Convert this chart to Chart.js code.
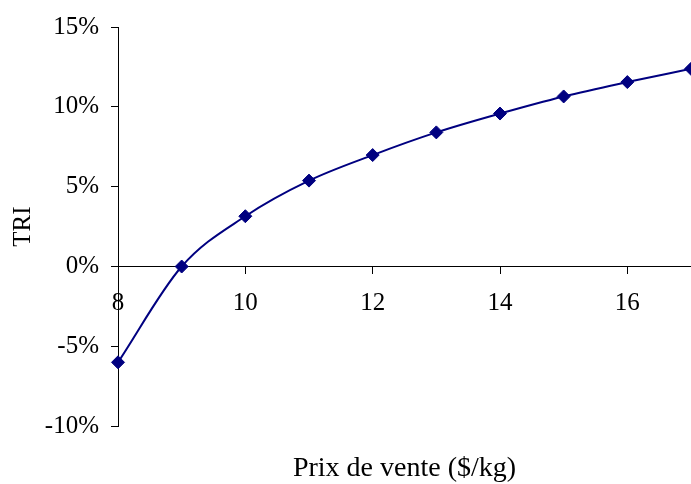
<!DOCTYPE html>
<html>
<head>
<meta charset="utf-8">
<script src="https://cdn.jsdelivr.net/npm/chart.js@4"></script>
<style>
  html, body { margin: 0; padding: 0; background: #ffffff; }
  #wrap { width: 691px; height: 484px; }
</style>
</head>
<body>
<div id="wrap"><canvas id="c" width="691" height="484"></canvas></div>
<script>
// Selling price ($/kg) and the resulting internal rate of return (%)
const prices = [8, 9, 10, 11, 12, 13, 14, 15, 16, 17];
const triValues = [-6.0, 0.0, 3.15, 5.38, 6.98, 8.4, 9.58, 10.65, 11.55, 12.38];
const xTicks = [8, 10, 12, 14, 16];
const yTicks = [-10, -5, 0, 5, 10, 15];

const serif = 'Liberation Serif, "Times New Roman", serif';
const navy = '#000080';

new Chart(document.getElementById('c'), {
  type: 'line',
  data: {
    datasets: [{
      data: prices.map((p, i) => ({ x: p, y: triValues[i] })),
      borderColor: navy,
      backgroundColor: navy,
      borderWidth: 2,
      pointStyle: 'rectRot',
      pointRadius: 6.5,
      pointHoverRadius: 6.5,
      pointBorderWidth: 1,
      cubicInterpolationMode: 'monotone',
      clip: false
    }]
  },
  options: {
    responsive: false,
    devicePixelRatio: 1,
    animation: false,
    layout: { autoPadding: false, padding: { left: 0, top: 24, right: -2, bottom: 0 } },
    plugins: {
      legend: { display: false },
      tooltip: { enabled: false },
      title: {
        display: true,
        position: 'bottom',
        fullSize: false,
        text: 'Prix de vente ($/kg)',
        color: '#000',
        font: { family: serif, size: 28, weight: 'normal', lineHeight: 1.1 },
        padding: { top: 27, bottom: 0 }
      }
    },
    scales: {
      x: {
        type: 'linear',
        position: { y: 0 },
        min: 8,
        max: 17,
        afterBuildTicks: s => { s.ticks = xTicks.map(v => ({ value: v })); },
        afterFit: s => { s.height = 0; s.paddingLeft = 0; s.paddingRight = 0; },
        border: { display: true, color: '#000', width: 1 },
        grid: { drawOnChartArea: false, drawTicks: true, tickLength: 7, color: '#000', tickWidth: 1 },
        ticks: {
          color: '#000',
          padding: 15,
          maxRotation: 0,
          font: { family: serif, size: 25 },
          callback: v => String(v)
        }
      },
      y: {
        type: 'linear',
        position: 'left',
        min: -10,
        max: 15,
        afterBuildTicks: s => { s.ticks = yTicks.map(v => ({ value: v })); },
        afterFit: s => { s.width = 118; },
        border: { display: true, color: '#000', width: 1 },
        grid: { drawOnChartArea: false, drawTicks: true, tickLength: 7, color: '#000', tickWidth: 1 },
        ticks: {
          color: '#000',
          padding: 12,
          font: { family: serif, size: 25 },
          callback: v => v + '%'
        },
        title: {
          display: true,
          text: 'TRI',
          color: '#000',
          font: { family: serif, size: 25 },
          padding: { top: 8, bottom: 0 }
        }
      }
    }
  }
});
</script>
</body>
</html>
